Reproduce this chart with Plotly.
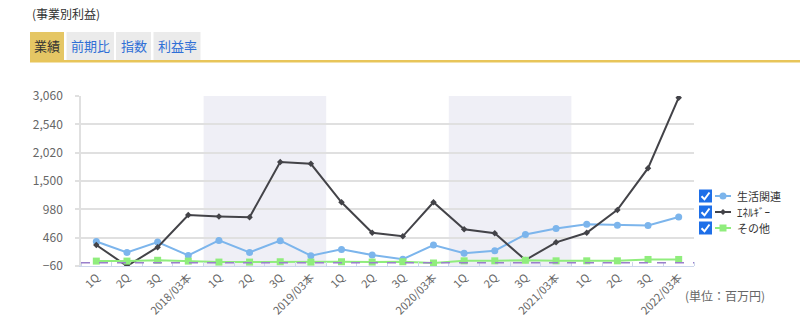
import plotly.graph_objects as go

categories = ["1Q", "2Q", "3Q", "2018/03本", "1Q", "2Q", "3Q", "2019/03本",
              "1Q", "2Q", "3Q", "2020/03本", "1Q", "2Q", "3Q", "2021/03本",
              "1Q", "2Q", "3Q", "2022/03本"]
seikatsu = [390, 190, 380, 135, 410, 190, 405, 130, 245, 140, 65, 325,
            175, 220, 520, 630, 705, 690, 685, 840]
energy = [325, -60, 285, 875, 850, 835, 1850, 1815, 1110, 550, 485, 1110,
          615, 540, 50, 375, 550, 970, 1735, 3030]
sonota = [30, 30, 45, 30, 12, 12, 18, 12, 18, 12, 18, -5, 35, 35, 45, 35,
          35, 35, 60, 60]
series_names = ["生活関連", "ｴﾈﾙｷﾞｰ", "その他"]
series_colors = ["#7cb5ec", "#434348", "#90ed7d"]
series_symbols = ["circle", "diamond", "square"]
y_ticks = [-60, 460, 980, 1500, 2020, 2540, 3060]
shaded_years = ["2019/03本", "2021/03本"]
tabs = ["業績", "前期比", "指数", "利益率"]

W, H = 800, 325
L, R, T, B = 81, 694, 96, 266
FONT = "Noto Sans CJK JP"


def px(x):
    return (x - L) / (R - L)


def py(y):
    return (B - y) / (B - T)


xs = list(range(len(categories)))
fig = go.Figure()
for name, vals, col, sym in zip(series_names, [seikatsu, energy, sonota],
                                series_colors, series_symbols):
    fig.add_trace(go.Scatter(x=xs, y=vals, name=name, mode="lines+markers",
                             line=dict(color=col, width=2),
                             marker=dict(symbol=sym, size=5 if sym == "diamond" else 7, color=col),
                             showlegend=False))

shapes = []
for yr in shaded_years:
    i = categories.index(yr)
    shapes.append(dict(type="rect", xref="x", yref="paper", x0=i - 3.5, x1=i + 0.5,
                       y0=0, y1=1, fillcolor="#efeff6", line_width=0, layer="below"))
# zero line
shapes.append(dict(type="line", xref="paper", yref="y", x0=0, x1=1, y0=0, y1=0,
                   line=dict(color="#9a7fcb", width=1.5, dash="dash"), layer="above"))

annotations = []
# title
annotations.append(dict(text="(事業別利益)", x=px(30), y=py(14), xref="paper", yref="paper",
                        xanchor="left", yanchor="middle", showarrow=False,
                        font=dict(family=FONT, size=12, color="#333333")))
# tabs
tab_boxes = [(30, 64), (66.5, 114), (116, 151), (153.5, 200.5)]
for k, (t, (x0, x1)) in enumerate(zip(tabs, tab_boxes)):
    active = k == 0
    shapes.append(dict(type="rect", xref="paper", yref="paper", x0=px(x0), x1=px(x1),
                       y0=py(60), y1=py(32), line_width=0,
                       fillcolor="#e5c664" if active else "#ebebeb"))
    annotations.append(dict(text=t, x=px((x0 + x1) / 2), y=py(46), xref="paper", yref="paper",
                            xanchor="center", yanchor="middle", showarrow=False,
                            font=dict(family=FONT, size=13,
                                      color="#333333" if active else "#2f6fd6")))
shapes.append(dict(type="rect", xref="paper", yref="paper", x0=px(30), x1=px(800),
                   y0=py(62.5), y1=py(60), line_width=0, fillcolor="#e8c55a"))

# custom legend with checkboxes
rows = [196, 212, 228]
for cy, name, col, sym in zip(rows, series_names, series_colors, series_symbols):
    shapes.append(dict(type="rect", xref="paper", yref="paper", x0=px(699), x1=px(712),
                       y0=py(cy + 6.5), y1=py(cy - 6.5), line_width=0, fillcolor="#1e6fe8"))
    path = "M {} {} L {} {} L {} {}".format(px(701.5), py(cy + 0.2), px(704.5), py(cy + 3.3),
                                            px(709.5), py(cy - 3.5))
    shapes.append(dict(type="path", xref="paper", yref="paper", path=path,
                       line=dict(color="white", width=2)))
    shapes.append(dict(type="line", xref="paper", yref="paper", x0=px(715), x1=px(731),
                       y0=py(cy), y1=py(cy), line=dict(color=col, width=2)))
    if sym == "circle":
        shapes.append(dict(type="circle", xref="paper", yref="paper", x0=px(719.5), x1=px(726.5),
                           y0=py(cy + 3.5), y1=py(cy - 3.5), line_width=0, fillcolor=col))
    elif sym == "square":
        shapes.append(dict(type="rect", xref="paper", yref="paper", x0=px(719.5), x1=px(726.5),
                           y0=py(cy + 3.5), y1=py(cy - 3.5), line_width=0, fillcolor=col))
    else:
        d = "M {} {} L {} {} L {} {} L {} {} Z".format(px(723), py(cy - 3), px(726), py(cy),
                                                       px(723), py(cy + 3), px(720), py(cy))
        shapes.append(dict(type="path", xref="paper", yref="paper", path=d, line_width=0,
                           fillcolor=col))
    annotations.append(dict(text=name, x=px(735), y=py(cy), xref="paper", yref="paper",
                            xanchor="left", yanchor="middle", showarrow=False,
                            font=dict(family=FONT, size=11, color="#333333")))

# unit label
annotations.append(dict(text="(単位：百万円)", x=px(683), y=py(295), xref="paper", yref="paper",
                        xanchor="left", yanchor="middle", showarrow=False,
                        font=dict(family=FONT, size=12, color="#666666")))

fig.update_layout(
    width=W, height=H,
    margin=dict(l=L, r=W - R, t=T, b=H - B, pad=0, autoexpand=False),
    paper_bgcolor="white", plot_bgcolor="white",
    font=dict(family=FONT, size=12, color="#333333"),
    showlegend=False,
    shapes=shapes, annotations=annotations,
    xaxis=dict(range=[-0.5, len(categories) - 0.5], tickvals=xs, ticktext=categories,
               tickangle=-45, showgrid=False, zeroline=False, showline=True,
               linecolor="#ccd6eb", linewidth=1, ticks="", fixedrange=True, automargin=False,
               tickfont=dict(family=FONT, size=11, color="#666666"),
               minor=dict(tick0=-0.5, dtick=1, ticks="inside", ticklen=4, tickcolor="#ccd6eb")),
    yaxis=dict(range=[y_ticks[0], y_ticks[-1]], tickvals=y_ticks, tickformat=",d",
               showgrid=True, gridcolor="#e0e0e0", gridwidth=1.5, zeroline=False,
               showline=True, linecolor="#e0e0e0", linewidth=1.5, automargin=False,
               ticks="outside", ticklen=4, tickcolor="#e0e0e0", tickwidth=1.5,
               ticklabelstandoff=10,
               tickfont=dict(family=FONT, size=12, color="#666666")),
)

fig.write_html("out.html")
